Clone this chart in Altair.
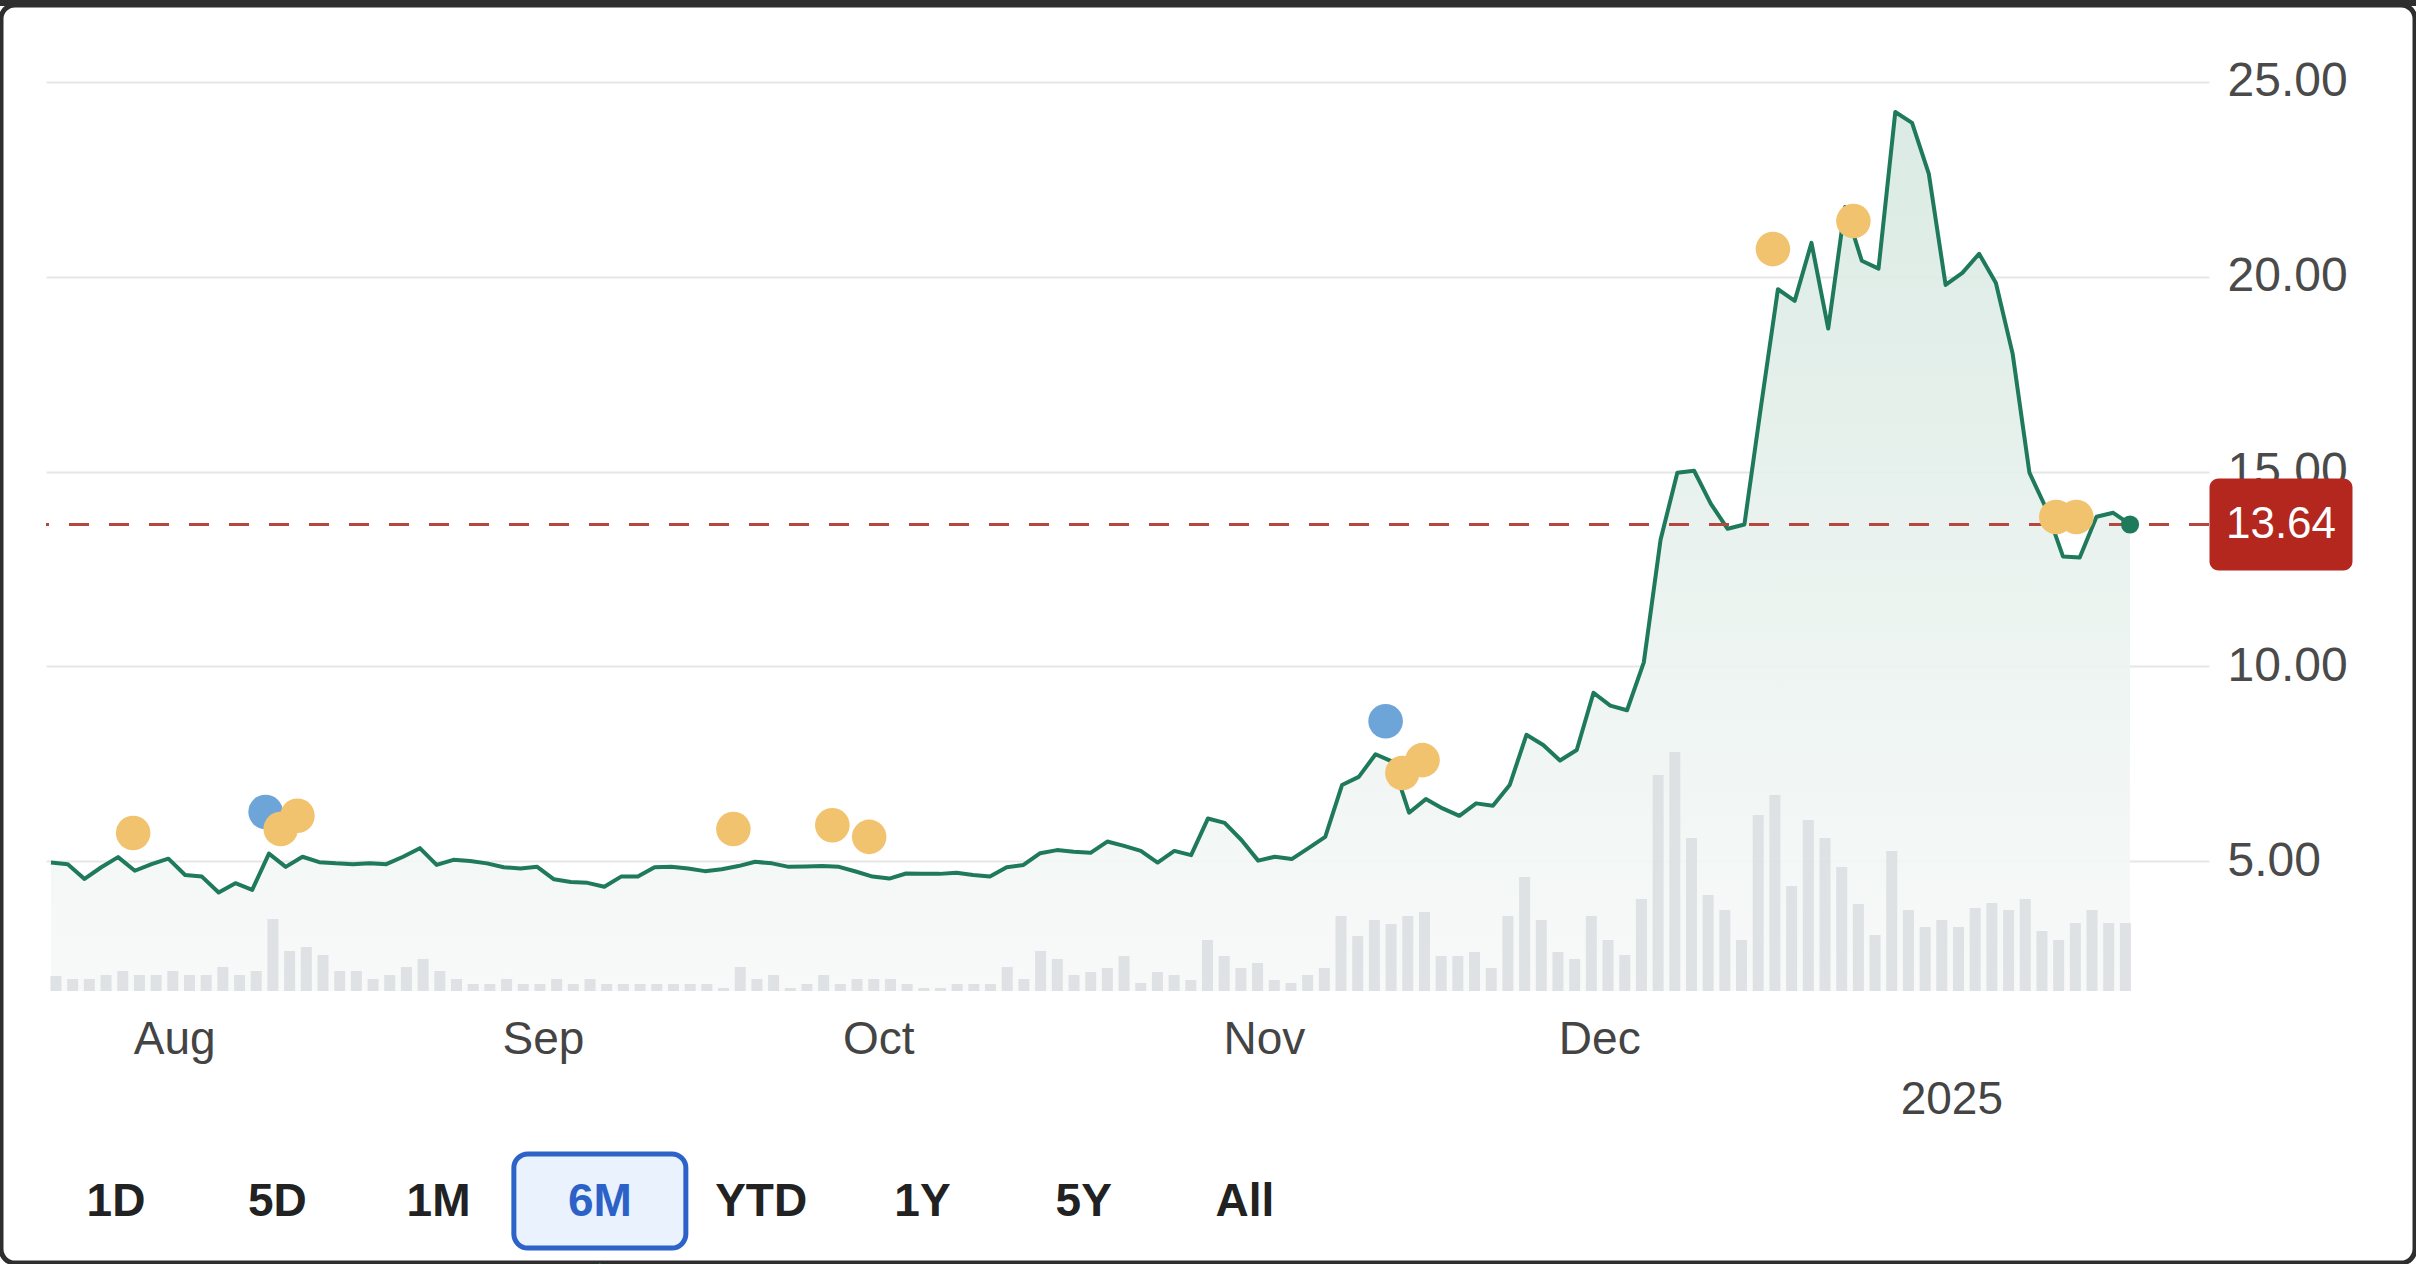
import altair as alt
import pandas as pd

# ---------------- data ----------------
price = [
    4.96, 4.92, 4.54, 4.84, 5.10, 4.75, 4.92, 5.06, 4.64, 4.60,
    4.19, 4.43, 4.26, 5.19, 4.85, 5.11, 4.97, 4.94, 4.92, 4.94,
    4.92, 5.11, 5.33, 4.90, 5.03, 5.00, 4.94, 4.84, 4.81, 4.85,
    4.53, 4.46, 4.44, 4.34, 4.60, 4.60, 4.84, 4.85, 4.81, 4.74,
    4.79, 4.87, 4.98, 4.94, 4.85, 4.86, 4.87, 4.85, 4.73, 4.60,
    4.55, 4.68, 4.67, 4.67, 4.70, 4.64, 4.60, 4.84, 4.90, 5.20,
    5.28, 5.24, 5.21, 5.50, 5.39, 5.26, 4.96, 5.26, 5.15, 6.09,
    5.98, 5.54, 5.01, 5.11, 5.05, 5.33, 5.62, 6.95, 7.16, 7.74,
    7.55, 6.24, 6.59, 6.35, 6.16, 6.48, 6.42, 6.95, 8.24, 7.98,
    7.58, 7.85, 9.32, 8.99, 8.87, 10.10, 13.25, 14.97, 15.02, 14.17,
    13.53, 13.64, 16.70, 19.68, 19.38, 20.87, 18.67, 21.79, 20.41, 20.21,
    24.23, 23.95, 22.64, 19.79, 20.10, 20.59, 19.84, 18.02, 14.97, 14.05,
    12.82, 12.79, 13.84, 13.94, 13.64,
]
volume = [
    15, 12, 12, 16, 20, 16, 16, 20, 16, 16,
    24, 16, 20, 72, 40, 44, 36, 20, 20, 12,
    16, 24, 32, 20, 12, 7, 7, 12, 7, 7,
    12, 7, 12, 7, 7, 7, 7, 7, 7, 7,
    3, 24, 12, 16, 3, 7, 16, 7, 12, 12,
    12, 7, 3, 3, 7, 7, 7, 24, 12, 40,
    32, 16, 19, 23, 35, 8, 19, 16, 11, 51,
    35, 23, 28, 11, 8, 16, 23, 75, 55, 71,
    67, 75, 79, 35, 35, 39, 23, 75, 114, 71,
    39, 32, 75, 51, 36, 92, 216, 239, 153, 96,
    81, 51, 176, 196, 105, 171, 153, 124, 87, 56,
    140, 81, 64, 71, 64, 83, 88, 81, 92, 60,
    51, 68, 81, 68, 68,
]
day_index = list(range(len(price)))

# first trading day of each month (index into the series)
month_ticks = [8, 30, 50, 73, 93]
month_names = ["Aug", "Sep", "Oct", "Nov", "Dec"]
year_tick = 114
year_label = "2025"

price_ticks = [5, 10, 15, 20, 25]
last_price = 13.64

# event markers (blue first so the orange ones sit on top)
event_idx = [12.8, 79.6, 4.9, 13.7, 14.7, 40.7, 46.6, 48.8, 80.6, 81.8, 102.7, 107.5, 119.6, 120.8]
event_pos = [6.26, 8.59, 5.72, 5.82, 6.16, 5.82, 5.92, 5.62, 7.26, 7.59, 20.71, 21.43, 13.83, 13.83]
event_kind = ["Earnings", "Earnings"] + ["News"] * 12

buttons = ["1D", "5D", "1M", "6M", "YTD", "1Y", "5Y", "All"]
selected = "6M"

# ---------------- tables ----------------
df = pd.DataFrame({"idx": day_index, "price": price, "volume": volume})
df_last = pd.DataFrame({"idx": [day_index[-1]], "price": [price[-1]]})
df_ref = pd.DataFrame({"p": [last_price], "label": [f"{last_price:.2f}"]})
df_ev = pd.DataFrame({"idx": event_idx, "pos": event_pos, "kind": event_kind})
df_btn = pd.DataFrame({"label": buttons, "sel": [b == selected for b in buttons]})
df_one = pd.DataFrame({"k": [0]})

# ---------------- styling ----------------
FONT = "Liberation Sans"
GREEN = "#1f7a5b"
ORANGE = "#f2c36f"
BLUE = "#6ea5d9"
RED = "#b3271f"
DASH = "#b5473f"
FRAME = "#2e2e2e"

W, H = 2163, 951
PAD_L, PAD_T, PAD_R, PAD_B = 46, 40, 207, 273
Y_MIN, Y_MAX = 1.663, 26.078
x_scale = alt.Scale(domain=[-0.298, 128.71], nice=False, zero=False)
y_scale = alt.Scale(domain=[Y_MIN, Y_MAX], nice=False, zero=False)
v_scale = alt.Scale(domain=[0, 951], nice=False, zero=True)

label_expr = " : ".join(
    [f"datum.value == {t} ? '{n}'" for t, n in zip(month_ticks, month_names)]
    + [f"datum.value == {year_tick} ? ['', '{year_label}'] : ''"]
)

x_axis = alt.Axis(
    values=month_ticks + [year_tick], labelExpr=label_expr, grid=False, domain=False,
    ticks=False, tickSize=0, labelPadding=26, labelFontSize=46, labelFont=FONT,
    labelColor="#444444", labelOffset=-11, labelLineHeight=60, labelBaseline="top",
    labelFlush=False, labelOverlap=False, title=None,
)
y_axis = alt.Axis(
    orient="right", values=price_ticks, format=".2f", grid=True, gridColor="#e6e6e6",
    gridWidth=2, domain=False, ticks=False, tickSize=0, labelPadding=18,
    labelFontSize=48, labelFont=FONT, labelColor="#4a4a4a", title=None,
)

gradient = alt.Gradient(
    gradient="linear",
    stops=[alt.GradientStop(color="#d7e8e1", offset=0),
           alt.GradientStop(color="#e9f2ee", offset=0.55),
           alt.GradientStop(color="#f7f9f9", offset=1)],
    x1=1, x2=1, y1=0, y2=1,
)

area = alt.Chart(df).mark_area(color=gradient, opacity=0.9).encode(
    x=alt.X("idx:Q", scale=x_scale, axis=x_axis),
    y=alt.Y("price:Q", scale=y_scale, axis=y_axis),
    y2=alt.datum(Y_MIN),
)

bars = alt.Chart(df).mark_bar(size=11, color="#dcdfe2", opacity=0.9).encode(
    x=alt.X("idx:Q", scale=x_scale, axis=None),
    y=alt.Y("volume:Q", scale=v_scale, axis=None),
)

line = alt.Chart(df).mark_line(color=GREEN, strokeWidth=4, strokeJoin="round").encode(
    x=alt.X("idx:Q", scale=x_scale, axis=None),
    y=alt.Y("price:Q", scale=y_scale, axis=None),
)

ref_rule = alt.Chart(df_ref).mark_rule(color=DASH, strokeWidth=3, strokeDash=[20, 20]).encode(
    y=alt.Y("p:Q", scale=y_scale, axis=None),
)

events = alt.Chart(df_ev).mark_circle(size=1195, opacity=1).encode(
    x=alt.X("idx:Q", scale=x_scale, axis=None),
    y=alt.Y("pos:Q", scale=y_scale, axis=None),
    color=alt.Color("kind:N", scale=alt.Scale(domain=["Earnings", "News"], range=[BLUE, ORANGE]), legend=None),
)

end_dot = alt.Chart(df_last).mark_circle(size=330, color=GREEN, opacity=1).encode(
    x=alt.X("idx:Q", scale=x_scale, axis=None),
    y=alt.Y("price:Q", scale=y_scale, axis=None),
)

# rounded boxes drawn as custom symbol paths (coordinates in the unit square)
box_red = ("M-0.874,-0.643 L0.874,-0.643 A0.126,0.126 0 0 1 1,-0.517 L1,0.517 "
           "A0.126,0.126 0 0 1 0.874,0.643 L-0.874,0.643 A0.126,0.126 0 0 1 -1,0.517 "
           "L-1,-0.517 A0.126,0.126 0 0 1 -0.874,-0.643 Z")
box_btn = ("M-0.837,-0.5465 L0.837,-0.5465 A0.163,0.163 0 0 1 1,-0.3835 L1,0.3835 "
           "A0.163,0.163 0 0 1 0.837,0.5465 L-0.837,0.5465 A0.163,0.163 0 0 1 -1,0.3835 "
           "L-1,-0.3835 A0.163,0.163 0 0 1 -0.837,-0.5465 Z")

price_tag = alt.Chart(df_ref).mark_point(
    shape=box_red, size=143 * 143, filled=True, color=RED, opacity=1, strokeWidth=0
).encode(x=alt.value(2235), y=alt.Y("p:Q", scale=y_scale, axis=None))

price_txt = alt.Chart(df_ref).mark_text(
    fontSize=44, font=FONT, color="white", align="center", baseline="middle", dy=1
).encode(x=alt.value(2235), y=alt.Y("p:Q", scale=y_scale, axis=None), text="label:N")

btn_scale = alt.Scale(type="point", domain=buttons, range=[70, 1199], padding=0)

btn_box = alt.Chart(df_btn).transform_filter("datum.sel").mark_point(
    shape=box_btn, size=172 * 172, filled=True, fill="#e9f2fd", stroke="#2d63c9",
    strokeWidth=5, opacity=1, fillOpacity=1, strokeOpacity=1
).encode(x=alt.X("label:N", scale=btn_scale, axis=None), y=alt.value(1161))

btn_tri = alt.Chart(df_btn).transform_filter("datum.sel").mark_point(
    shape="triangle-up", size=220, filled=True, color=GREEN, opacity=1
).encode(x=alt.X("label:N", scale=btn_scale, axis=None), y=alt.value(1229))

btn_txt = alt.Chart(df_btn).mark_text(
    fontSize=46, font=FONT, fontWeight="bold", align="center", baseline="middle"
).encode(
    x=alt.X("label:N", scale=btn_scale, axis=None),
    y=alt.value(1162),
    text="label:N",
    color=alt.condition("datum.sel", alt.value("#2c62c8"), alt.value("#222222")),
)

# thin dark frame of the screenshot (top band is a little thicker)
frame = alt.Chart(df_one).mark_rect(
    fillOpacity=0, stroke=FRAME, strokeWidth=5, cornerRadius=14
).encode(
    x=alt.value(-PAD_L + 1), x2=alt.value(W + PAD_R - 1),
    y=alt.value(-PAD_T + 5), y2=alt.value(H + PAD_B - 1),
)
top_band = alt.Chart(df_one).mark_rule(color=FRAME, strokeWidth=12).encode(
    x=alt.value(-PAD_L), x2=alt.value(W + PAD_R), y=alt.value(-PAD_T),
)

chart = alt.layer(
    area, bars, line, ref_rule, events, end_dot, price_tag, price_txt,
    btn_box, btn_txt, frame, top_band, btn_tri
).resolve_scale(y="independent", x="independent").properties(
    width=W, height=H,
    autosize=alt.AutoSizeParams(type="none"),
    padding={"left": PAD_L, "top": PAD_T, "right": PAD_R, "bottom": PAD_B},
    background="white",
).configure(font=FONT).configure_view(stroke=None)

chart.save("out.html", embed_options={"renderer": "svg", "actions": False})
